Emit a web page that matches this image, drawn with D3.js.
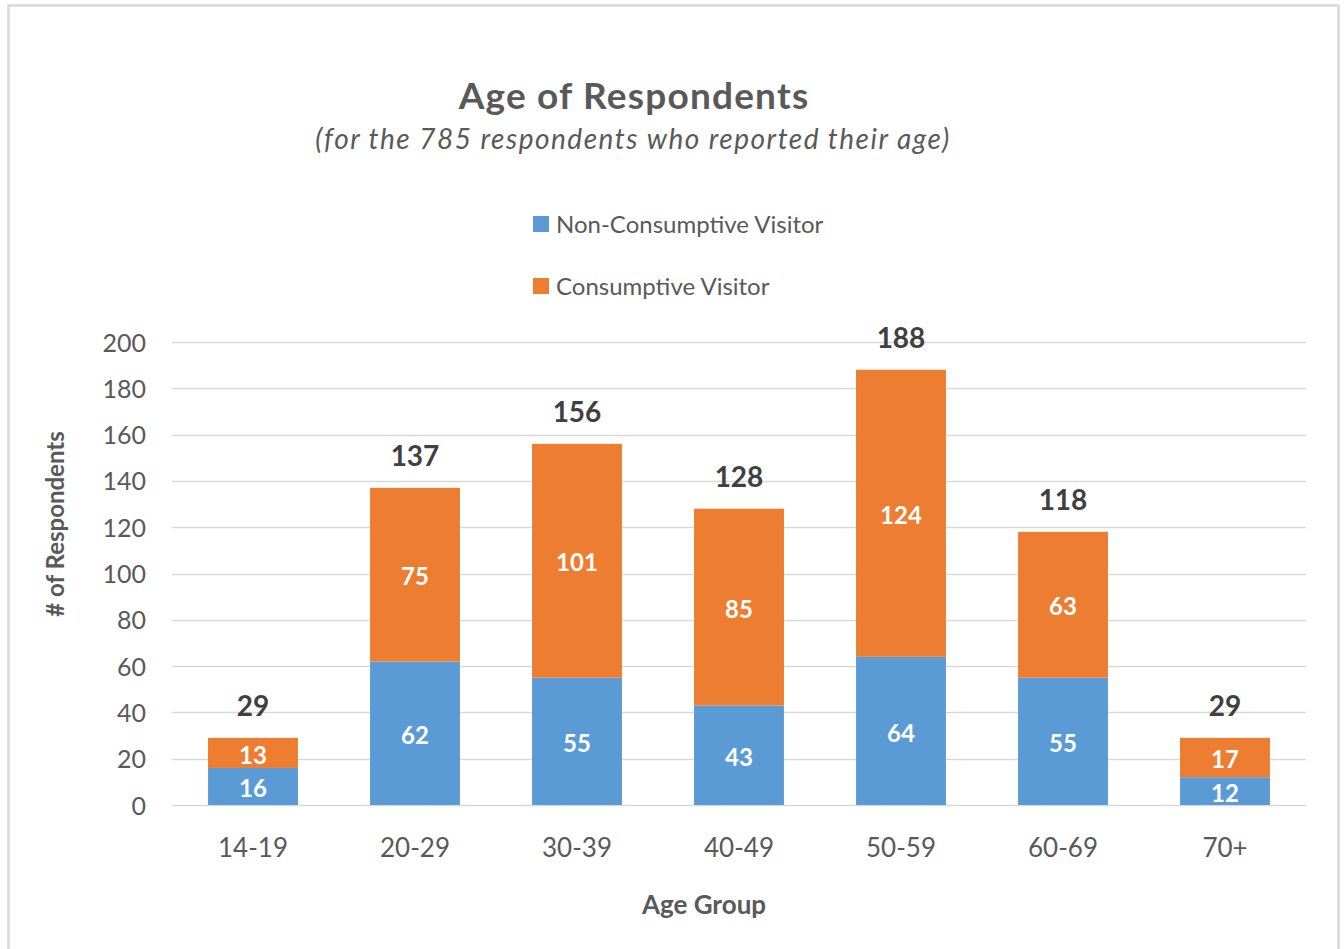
<!DOCTYPE html>
<html>
<head>
<meta charset="utf-8">
<script src="https://cdn.jsdelivr.net/npm/d3@7"></script>
<style>
  html, body { margin: 0; padding: 0; background: #fff; }
  svg { display: block; }
  text { font-family: Lato, "Open Sans", "DejaVu Sans", sans-serif; }
</style>
</head>
<body>
<svg id="chart" width="1344" height="949"></svg>
<script>
// Age groups and respondent counts per visitor type
const categories = ["14-19", "20-29", "30-39", "40-49", "50-59", "60-69", "70+"];
const nonConsumptive = [16, 62, 55, 43, 64, 55, 12];
const consumptive = [13, 75, 101, 85, 124, 63, 17];
const totals = [29, 137, 156, 128, 188, 118, 29];
const yTicks = [0, 20, 40, 60, 80, 100, 120, 140, 160, 180, 200];
const seriesNames = ["Non-Consumptive Visitor", "Consumptive Visitor"];
const seriesColors = ["#5b9bd5", "#ed7d31"];

const svg = d3.select("#chart");

// chart frame
svg.append("rect")
  .attr("x", 8.5).attr("y", 5.5)
  .attr("width", 1330).attr("height", 945)
  .attr("fill", "#fff")
  .attr("stroke", "#d9d9d9").attr("stroke-width", 2.5);

const plot = { left: 172, right: 1306, top: 342, bottom: 805 };

const x = d3.scaleBand()
  .domain(categories)
  .range([plot.left, plot.right])
  .paddingInner(0.445)
  .paddingOuter(0.2225);

const y = d3.scaleLinear()
  .domain([0, 200])
  .range([plot.bottom, plot.top]);

// gridlines
svg.append("g")
  .selectAll("line")
  .data(yTicks)
  .join("line")
  .attr("x1", plot.left).attr("x2", plot.right)
  .attr("y1", d => Math.round(y(d)) + 0.5).attr("y2", d => Math.round(y(d)) + 0.5)
  .attr("stroke", "#d9d9d9").attr("stroke-width", 1.3);

// y axis labels
const yAxis = d3.axisLeft(y).tickValues(yTicks).tickSize(0).tickPadding(0);
const gy = svg.append("g")
  .attr("transform", `translate(${plot.left - 26},0)`)
  .call(yAxis);
gy.select(".domain").remove();
gy.selectAll("text")
  .attr("font-size", 25)
  .attr("fill", "#595959")
  .attr("dy", "0.36em");

// x axis labels
const xAxis = d3.axisBottom(x).tickSize(0).tickPadding(0);
const gx = svg.append("g")
  .attr("transform", `translate(0,${plot.bottom + 43})`)
  .call(xAxis);
gx.select(".domain").remove();
gx.selectAll("text")
  .attr("font-size", 26)
  .attr("fill", "#595959")
  .attr("dy", "0.36em");

// stacked bars
const rows = categories.map((c, i) => ({ cat: c, nc: nonConsumptive[i], c: consumptive[i], total: totals[i] }));
const stack = d3.stack().keys(["nc", "c"]);
const layers = stack(rows);

const gBars = svg.append("g");
layers.forEach((layer, li) => {
  gBars.append("g")
    .attr("fill", seriesColors[li])
    .selectAll("rect")
    .data(layer)
    .join("rect")
    .attr("x", d => x(d.data.cat))
    .attr("width", x.bandwidth())
    .attr("y", d => y(d[1]))
    .attr("height", d => y(d[0]) - y(d[1]));

  gBars.append("g")
    .selectAll("text")
    .data(layer)
    .join("text")
    .attr("x", d => x(d.data.cat) + x.bandwidth() / 2)
    .attr("y", d => (y(d[0]) + y(d[1])) / 2 + 2)
    .attr("dy", "0.36em")
    .attr("text-anchor", "middle")
    .attr("font-size", 24)
    .attr("font-weight", "bold")
    .attr("fill", "#fff")
    .text(d => d[1] - d[0]);
});

// totals above each stack
svg.append("g")
  .selectAll("text")
  .data(rows)
  .join("text")
  .attr("x", d => x(d.cat) + x.bandwidth() / 2)
  .attr("y", d => y(d.total) - 22)
  .attr("text-anchor", "middle")
  .attr("font-size", 28)
  .attr("font-weight", "bold")
  .attr("fill", "#404040")
  .text(d => d.total);

// titles
svg.append("text")
  .attr("x", 634).attr("y", 109)
  .attr("text-anchor", "middle")
  .attr("font-size", 37).attr("font-weight", "bold")
  .attr("letter-spacing", 1.2)
  .attr("fill", "#595959")
  .text("Age of Respondents");

svg.append("text")
  .attr("x", 633).attr("y", 149)
  .attr("text-anchor", "middle")
  .attr("font-size", 28).attr("font-style", "italic")
  .attr("letter-spacing", 1.5)
  .attr("fill", "#595959")
  .text("(for the 785 respondents who reported their age)");

// legend
const legend = svg.append("g");
seriesNames.forEach((name, i) => {
  const ly = 224 + i * 62;
  legend.append("rect")
    .attr("x", 533).attr("y", ly - 8)
    .attr("width", 16).attr("height", 16)
    .attr("fill", seriesColors[i]);
  legend.append("text")
    .attr("x", 556).attr("y", ly)
    .attr("dy", "0.36em")
    .attr("font-size", 24)
    .attr("fill", "#595959")
    .text(name);
});

// axis titles
svg.append("text")
  .attr("x", 704).attr("y", 905)
  .attr("dy", "0.36em")
  .attr("text-anchor", "middle")
  .attr("font-size", 26).attr("font-weight", "bold")
  .attr("fill", "#595959")
  .text("Age Group");

svg.append("text")
  .attr("transform", "translate(55,524) rotate(-90)")
  .attr("dy", "0.36em")
  .attr("text-anchor", "middle")
  .attr("font-size", 24).attr("font-weight", "bold")
  .attr("fill", "#595959")
  .text("# of Respondents");
</script>
</body>
</html>
